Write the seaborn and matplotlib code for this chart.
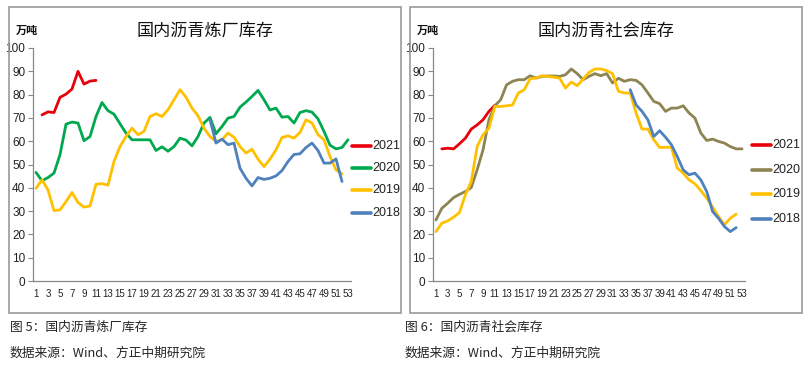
import numpy as np
import pandas as pd
import matplotlib
matplotlib.use("Agg")
import matplotlib.pyplot as plt
from matplotlib.lines import Line2D
from matplotlib.patches import Rectangle
import seaborn as sns

N = None
weeks = list(range(1, 54))
years = ["2021", "2020", "2019", "2018"]

# 炼厂库存 (left)
refinery_2021 = [N, 71.3, 72.6, 72.3, 78.8, 80.2, 82.4, 90.0, 84.5, 85.8, 86.1] + [N] * 42
refinery_2020 = [46.6, 43.0, 44.4, 46.3, 54.2, 67.3, 68.2, 67.8, 60.2, 62.0,
                 70.6, 76.6, 73.1, 71.6, 67.5, 63.5, 60.6, 60.6, 60.6, 60.6,
                 56.0, 57.6, 55.7, 57.7, 61.3, 60.5, 58.0, 62.0, 67.8, 70.2,
                 63.2, 66.3, 69.9, 70.6, 74.6, 76.8, 79.2, 81.8, 77.8, 73.4,
                 74.2, 70.3, 70.6, 67.8, 72.3, 73.1, 72.5, 69.6, 64.2, 58.3,
                 56.7, 57.3, 60.6]
refinery_2019 = [39.8, 43.4, 39.1, 30.2, 30.5, 34.1, 38.0, 33.7, 31.7, 32.2,
                 41.5, 41.8, 41.1, 51.3, 57.7, 62.0, 65.6, 62.8, 64.2, 70.6,
                 71.8, 70.6, 73.5, 77.8, 82.1, 78.9, 74.2, 70.9, 65.6, 62.0,
                 59.9, 60.6, 63.5, 61.7, 57.7, 54.9, 56.6, 52.3, 49.1, 52.3,
                 56.3, 61.6, 62.3, 61.3, 63.8, 69.2, 67.8, 62.8, 60.6, 53.4,
                 47.7, 46.0, N]
refinery_2018 = [N] * 29 + [69.2, 59.2, 60.9, 58.5, 59.2, 48.4, 44.1, 40.8, 44.4,
                            43.6, 44.1, 45.1, 47.4, 51.3, 54.3, 54.6, 57.3, 59.2,
                            56.0, 50.6, 50.6, 52.4, 42.7, N]

# 社会库存 (right)
social_2021 = [N, 56.7, 57.0, 56.7, 58.9, 61.3, 65.2, 67.0, 69.2, 72.8, 75.4] + [N] * 42
social_2020 = [26.2, 31.2, 33.4, 35.8, 37.2, 38.4, 40.1, 47.7, 56.3, 69.2,
               75.2, 77.8, 84.2, 85.7, 86.4, 86.4, 88.1, 87.1, 87.8, 88.0,
               88.0, 87.8, 88.5, 91.0, 89.0, 86.4, 87.8, 89.0, 88.1, 89.0,
               85.0, 87.0, 85.7, 86.4, 86.1, 84.2, 80.7, 77.1, 76.1, 72.8,
               74.2, 74.2, 75.2, 72.1, 69.9, 63.5, 60.3, 60.9, 59.9, 59.2,
               57.7, 56.7, 56.7]
social_2019 = [21.2, 24.8, 25.8, 27.4, 29.4, 37.0, 42.7, 57.7, 62.8, 65.6,
               74.9, 74.9, 75.2, 75.5, 80.7, 82.1, 86.8, 87.1, 88.1, 87.8,
               87.5, 87.1, 82.8, 85.4, 83.8, 86.7, 89.5, 91.0, 91.0, 90.3,
               89.0, 81.4, 80.7, 80.7, 72.1, 65.2, 65.2, 60.6, 57.3, 57.4,
               57.4, 48.4, 46.3, 43.4, 41.7, 38.8, 35.5, 31.7, 27.7, 24.1,
               26.9, 28.7, N]
social_2018 = [N] * 33 + [82.1, 75.6, 72.8, 69.2, 62.0, 64.5, 61.7, 58.5, 53.4,
                          47.7, 45.6, 46.3, 43.4, 38.4, 29.8, 26.9, 23.4, 21.2,
                          22.9, N]

colors_left = {"2021": "#E8000B", "2020": "#00A84F", "2019": "#FFC000", "2018": "#4F81BD"}
colors_right = {"2021": "#E8000B", "2020": "#8C8452", "2019": "#FFC000", "2018": "#4F81BD"}


def to_long(series):
    rows = []
    for yr, vals in series.items():
        for w, v in zip(weeks, vals):
            if v is not None:
                rows.append({"week": w, "value": v, "year": yr})
    return pd.DataFrame(rows)


sns.set_theme(style="white")
plt.rcParams["font.family"] = ["Noto Sans CJK SC", "DejaVu Sans"]
NUM_FONT = ["Liberation Sans Narrow", "Liberation Sans", "DejaVu Sans"]

fig = plt.figure(figsize=(8.1, 3.73), dpi=100)
W, H = 810, 373


def px_rect(x0, y0, x1, y1):
    return [x0 / W, 1 - y1 / H, (x1 - x0) / W, (y1 - y0) / H]


def draw_panel(frame, plot_box, title, series, palette, leg_x, leg_y0, leg_dy):
    fx0, fy0, fx1, fy1 = frame
    fig.patches.append(Rectangle((fx0 / W, 1 - fy1 / H), (fx1 - fx0) / W, (fy1 - fy0) / H,
                                 transform=fig.transFigure, fill=False,
                                 edgecolor="#9A9A9A", linewidth=1.2))
    ax = fig.add_axes(px_rect(*plot_box))
    df = to_long(series)
    sns.lineplot(data=df, x="week", y="value", hue="year", hue_order=years,
                 palette=palette, linewidth=2.0, legend=False, ax=ax, sort=False)
    ax.set_xlim(0.5, 53.5)
    ax.set_ylim(0, 100)
    ax.set_yticks(range(0, 101, 10))
    ax.set_xticks(range(1, 54, 2))
    ax.set_xticks(np.arange(0.5, 54, 1), minor=True)
    ax.tick_params(axis="x", which="major", length=0, pad=6, labelsize=7)
    ax.tick_params(axis="x", which="minor", length=3.5, width=0.8, color="#888888", direction="out")
    ax.tick_params(axis="y", which="major", length=3.5, width=0.8, color="#888888",
                   direction="out", left=True, labelsize=8.5, pad=2)
    for lab in ax.get_xticklabels() + ax.get_yticklabels():
        lab.set_family(NUM_FONT)
        lab.set_color("#222222")
    for s in ["top", "right"]:
        ax.spines[s].set_visible(False)
    for s in ["left", "bottom"]:
        ax.spines[s].set_color("#888888")
        ax.spines[s].set_linewidth(0.9)
    ax.set_xlabel("")
    ax.set_ylabel("")
    ax.grid(False)
    ax.set_facecolor("none")

    cx = (fx0 + fx1) / 2
    fig.text(cx / W, 1 - 32 / H, title, ha="center", va="center", fontsize=12.3, color="#111111")
    fig.text((fx0 + 7) / W, 1 - 30 / H, "万吨", ha="left", va="center", fontsize=8,
             fontweight="bold", color="#111111")

    for i, yr in enumerate(years):
        yy = 1 - (leg_y0 + i * leg_dy) / H
        fig.lines.append(Line2D([leg_x / W, (leg_x + 19) / W], [yy, yy], transform=fig.transFigure,
                                color=palette[yr], linewidth=2.6))
        fig.text((leg_x + 20) / W, yy, yr, ha="left", va="center", fontsize=9,
                 family=NUM_FONT, color="#222222")
    return ax


draw_panel((9, 7, 401, 313), (33, 48, 351, 281), "国内沥青炼厂库存",
           {"2021": refinery_2021, "2020": refinery_2020, "2019": refinery_2019, "2018": refinery_2018},
           colors_left, 352, 146, 22.2)
draw_panel((410, 7, 802, 313), (433, 48, 745, 281), "国内沥青社会库存",
           {"2021": social_2021, "2020": social_2020, "2019": social_2019, "2018": social_2018},
           colors_right, 752, 145, 24.7)

cap_font = ["Noto Sans CJK SC", "DejaVu Sans"]
cap_size = 9.2
fig.text(10 / W, 1 - 327 / H, "图 5：国内沥青炼厂库存", ha="left", va="center", fontsize=cap_size, family=cap_font)
fig.text(10 / W, 1 - 353 / H, "数据来源：Wind、方正中期研究院", ha="left", va="center", fontsize=cap_size, family=cap_font)
fig.text(405 / W, 1 - 327 / H, "图 6：国内沥青社会库存", ha="left", va="center", fontsize=cap_size, family=cap_font)
fig.text(405 / W, 1 - 353 / H, "数据来源：Wind、方正中期研究院", ha="left", va="center", fontsize=cap_size, family=cap_font)

fig.savefig("out.png", dpi=100, facecolor="white")
